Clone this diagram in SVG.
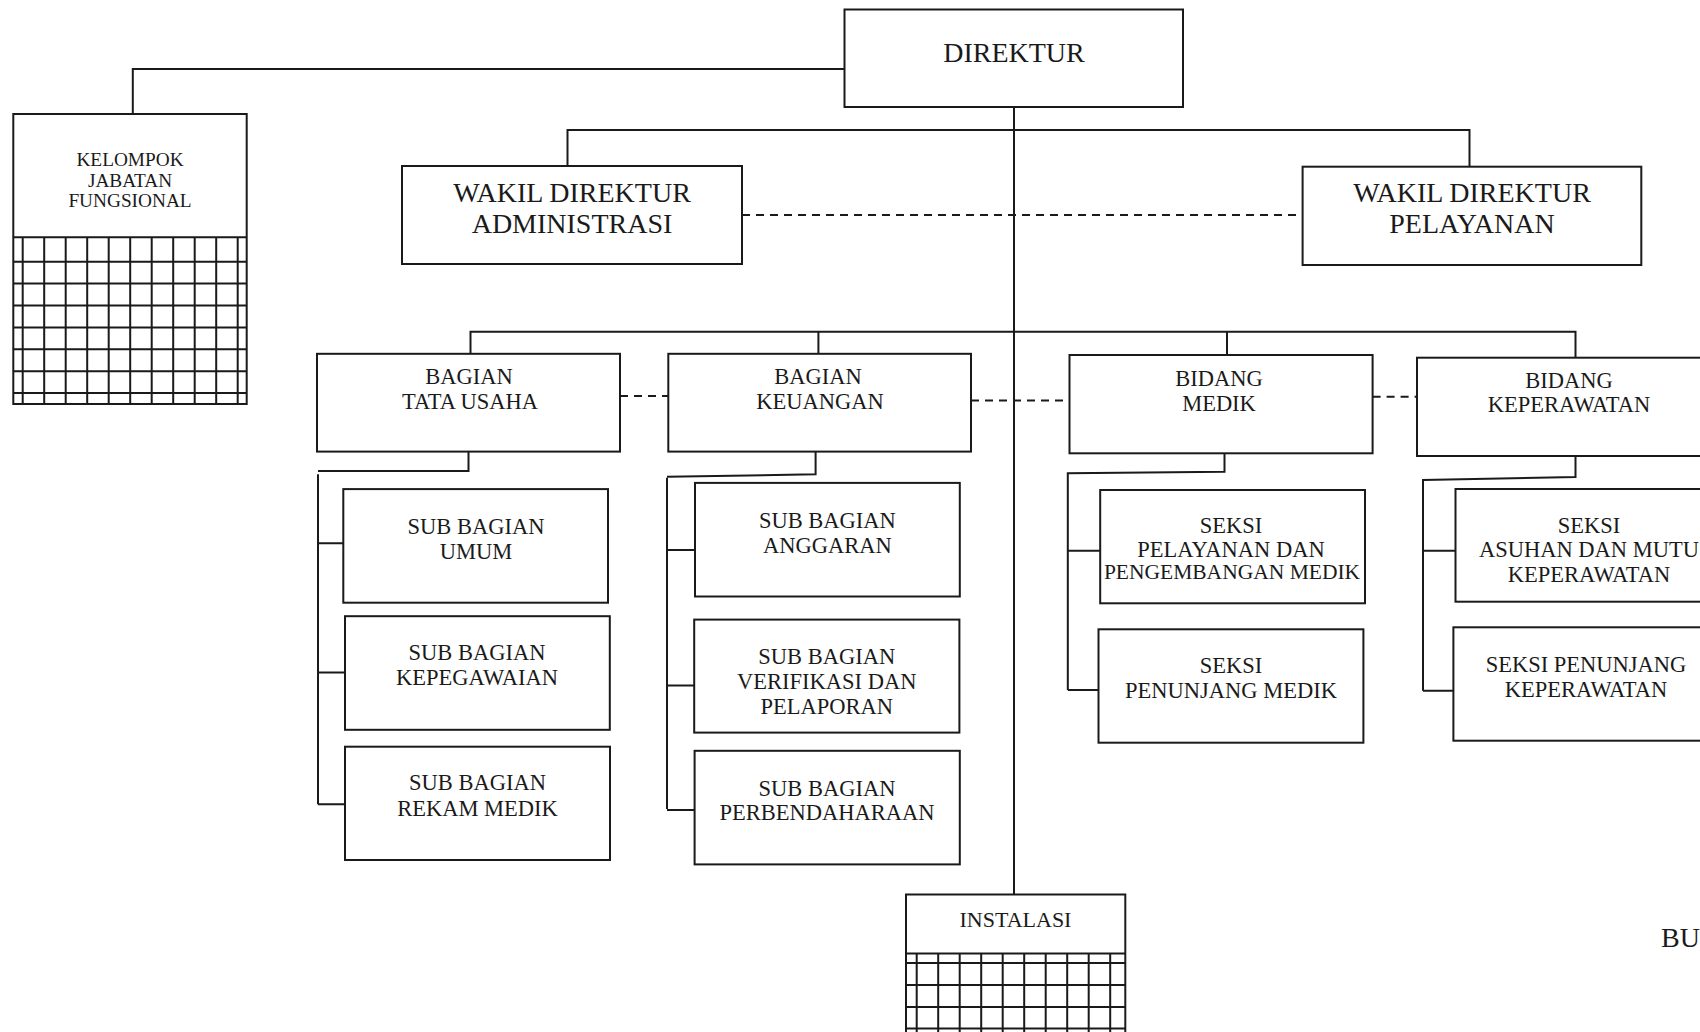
<svg xmlns="http://www.w3.org/2000/svg" width="1700" height="1032" viewBox="0 0 1700 1032">
<style>
.bg{fill:#fff}
.box{fill:#fff;stroke:#1a1a1a;stroke-width:2}
.ln{fill:none;stroke:#1a1a1a;stroke-width:2}
.dash{fill:none;stroke:#1a1a1a;stroke-width:2;stroke-dasharray:8 6}
.grid{fill:none;stroke:#1a1a1a;stroke-width:2}
.t{font-family:"Liberation Serif","Times New Roman",serif;text-anchor:middle;fill:#1a1a1a}
.s28{font-size:28px}.s22{font-size:22.5px}.s21{font-size:21.5px}.s19{font-size:19.3px}.si{font-size:22px}
</style>
<rect class="bg" x="0" y="0" width="1700" height="1032"/>
<g id="connectors">
<path class="ln" d="M844.5,69 H132.8 V114"/>
<path class="ln" d="M1014,107 V894.5"/>
<path class="ln" d="M567.5,166 V130 H1469.5 V166.7"/>
<path class="dash" d="M742,215 H1302.6"/>
<path class="ln" d="M470.5,353.8 V331.7 H1575.5 V357.7"/>
<path class="ln" d="M818.4,331.7 V353.8"/>
<path class="ln" d="M1227,331.7 V355"/>
<path class="dash" d="M620,396.1 H668.3"/>
<path class="dash" d="M971,400.5 H1069.5"/>
<path class="dash" d="M1372.6,396.7 H1417"/>
<path class="ln" d="M468.5,451.6 V470.9 H318"/>
<path class="ln" d="M318,474.3 V804.2"/>
<path class="ln" d="M318,543.2 H343.3 M318,672.6 H345 M318,804.2 H345"/>
<path class="ln" d="M815.6,451.6 V474.3 L667,476.7"/>
<path class="ln" d="M667,477.7 V809"/>
<path class="ln" d="M667,550 H695 M667,685.4 H694.2 M667,810 H694.6"/>
<path class="ln" d="M1224.5,453.3 V471.7 L1067.8,473.3 V690"/>
<path class="ln" d="M1067.8,550.7 H1100.2 M1067.8,690 H1098.5"/>
<path class="ln" d="M1575.5,456 V477 L1423,480 V690.7"/>
<path class="ln" d="M1423,550.7 H1455.5 M1423,690.7 H1453.4"/>
</g>
<g id="direktur">
<rect class="box" x="844.5" y="9.5" width="338.5" height="97.5"/>
<text class="t s28" x="1014" y="62">DIREKTUR</text>
</g>
<g id="kelompok-jabatan-fungsional">
<rect class="box" x="13.3" y="114" width="233.4" height="290"/>
<path class="grid" d="M13.3,237.3 H246.7 M22.7,237.3 V404 M44.2,237.3 V404 M65.7,237.3 V404 M87.2,237.3 V404 M108.7,237.3 V404 M130.2,237.3 V404 M151.7,237.3 V404 M173.2,237.3 V404 M194.7,237.3 V404 M216.2,237.3 V404 M237.7,237.3 V404 M13.3,261.7 H246.7 M13.3,283.6 H246.7 M13.3,305.5 H246.7 M13.3,327.4 H246.7 M13.3,349.3 H246.7 M13.3,371.2 H246.7 M13.3,393.1 H246.7"/>
<text class="t s19" x="130" y="166">KELOMPOK</text>
<text class="t s19" x="130" y="186.5">JABATAN</text>
<text class="t s19" x="130" y="207">FUNGSIONAL</text>
</g>
<g id="wakil-direktur-administrasi">
<rect class="box" x="402" y="166" width="340" height="98"/>
<text class="t s28" x="572" y="202">WAKIL DIREKTUR</text>
<text class="t s28" x="572" y="233">ADMINISTRASI</text>
</g>
<g id="wakil-direktur-pelayanan">
<rect class="box" x="1302.6" y="166.7" width="338.7" height="98.3"/>
<text class="t s28" x="1472" y="202">WAKIL DIREKTUR</text>
<text class="t s28" x="1472" y="233">PELAYANAN</text>
</g>
<g id="bagian-tata-usaha">
<rect class="box" x="317" y="353.8" width="303" height="97.8"/>
<text class="t s22" x="469" y="383.7">BAGIAN</text>
<text class="t s22" x="470" y="408.9">TATA USAHA</text>
</g>
<g id="bagian-keuangan">
<rect class="box" x="668.3" y="353.8" width="302.7" height="97.8"/>
<text class="t s22" x="818" y="383.7">BAGIAN</text>
<text class="t s22" x="820" y="408.9">KEUANGAN</text>
</g>
<g id="bidang-medik">
<rect class="box" x="1069.5" y="355" width="303.1" height="98.3"/>
<text class="t s22" x="1219" y="385.7">BIDANG</text>
<text class="t s22" x="1219" y="410.7">MEDIK</text>
</g>
<g id="bidang-keperawatan">
<rect class="box" x="1417" y="357.7" width="300" height="98.3"/>
<text class="t s22" x="1569" y="387.7">BIDANG</text>
<text class="t s22" x="1569" y="412.3">KEPERAWATAN</text>
</g>
<g id="sub-bagian-umum">
<rect class="box" x="343.3" y="489.1" width="264.7" height="113.6"/>
<text class="t s22" x="476" y="533.5">SUB BAGIAN</text>
<text class="t s22" x="476" y="558.7">UMUM</text>
</g>
<g id="sub-bagian-kepegawaian">
<rect class="box" x="345" y="616.2" width="264.8" height="113.6"/>
<text class="t s22" x="477" y="660.2">SUB BAGIAN</text>
<text class="t s22" x="477" y="685.4">KEPEGAWAIAN</text>
</g>
<g id="sub-bagian-rekam-medik">
<rect class="box" x="345" y="746.7" width="265" height="113.3"/>
<text class="t s22" x="477.5" y="790.4">SUB BAGIAN</text>
<text class="t s22" x="477.5" y="816.2">REKAM MEDIK</text>
</g>
<g id="sub-bagian-anggaran">
<rect class="box" x="695" y="482.9" width="264.8" height="113.6"/>
<text class="t s22" x="827.4" y="527.7">SUB BAGIAN</text>
<text class="t s22" x="827.4" y="552.8">ANGGARAN</text>
</g>
<g id="sub-bagian-verifikasi">
<rect class="box" x="694.2" y="619.6" width="265.2" height="113"/>
<text class="t s22" x="826.8" y="663.7">SUB BAGIAN</text>
<text class="t s22" x="826.8" y="688.5">VERIFIKASI DAN</text>
<text class="t s22" x="826.8" y="713.6">PELAPORAN</text>
</g>
<g id="sub-bagian-perbendaharaan">
<rect class="box" x="694.6" y="750.8" width="265.2" height="113.6"/>
<text class="t s22" x="827" y="796.3">SUB BAGIAN</text>
<text class="t s22" x="827" y="820.4">PERBENDAHARAAN</text>
</g>
<g id="seksi-pelayanan-pengembangan-medik">
<rect class="box" x="1100.2" y="490" width="264.8" height="113.3"/>
<text class="t s22" x="1231" y="532.7">SEKSI</text>
<text class="t s22" x="1231" y="557.3">PELAYANAN DAN</text>
<text class="t s21" x="1232" y="579.3">PENGEMBANGAN MEDIK</text>
</g>
<g id="seksi-penunjang-medik">
<rect class="box" x="1098.5" y="629.3" width="264.9" height="113.4"/>
<text class="t s22" x="1231" y="673.3">SEKSI</text>
<text class="t s22" x="1231" y="698.3">PENUNJANG MEDIK</text>
</g>
<g id="seksi-asuhan-mutu-keperawatan">
<rect class="box" x="1455.5" y="489" width="260" height="112.7"/>
<text class="t s22" x="1589" y="532.7">SEKSI</text>
<text class="t s22" x="1589" y="557.3">ASUHAN DAN MUTU</text>
<text class="t s22" x="1589" y="581.7">KEPERAWATAN</text>
</g>
<g id="seksi-penunjang-keperawatan">
<rect class="box" x="1453.4" y="627.3" width="260" height="113.4"/>
<text class="t s22" x="1586" y="671.7">SEKSI PENUNJANG</text>
<text class="t s22" x="1586" y="696.7">KEPERAWATAN</text>
</g>
<g id="instalasi">
<rect class="box" x="906" y="894.5" width="219.3" height="150"/>
<path class="grid" d="M906,953.5 H1125.3 M916.7,953.5 V1040 M938.2,953.5 V1040 M959.7,953.5 V1040 M981.2,953.5 V1040 M1002.7,953.5 V1040 M1024.2,953.5 V1040 M1045.7,953.5 V1040 M1067.2,953.5 V1040 M1088.7,953.5 V1040 M1110.2,953.5 V1040 M906,963 H1125.3 M906,985 H1125.3 M906,1007 H1125.3 M906,1028.5 H1125.3"/>
<text class="t si" x="1015.5" y="926.7">INSTALASI</text>
</g>
<g id="bu-label">
<text class="s28" style="font-family:'Liberation Serif','Times New Roman',serif;fill:#1a1a1a" x="1661" y="947">BU</text>
</g>
</svg>
